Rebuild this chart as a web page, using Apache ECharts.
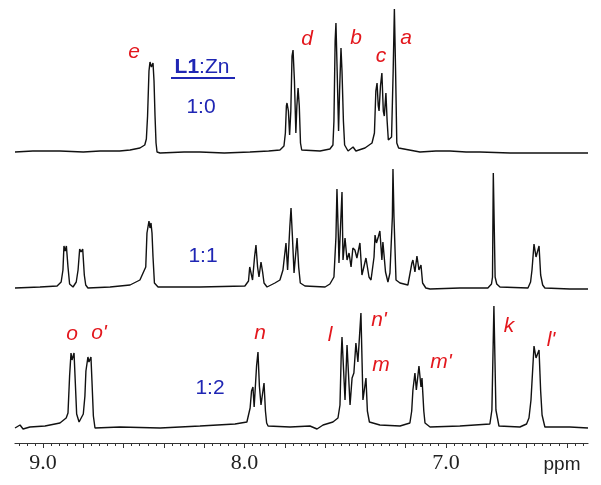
<!DOCTYPE html>
<html>
<head>
<meta charset="utf-8">
<script src="https://cdn.jsdelivr.net/npm/echarts@6/dist/echarts.min.js"></script>
<style>
html,body{margin:0;padding:0;background:#fff;}
#chart{width:601px;height:485px;}
</style>
</head>
<body>
<div id="chart"></div>
<script>
/* x range of the spectrum (ppm, drawn high -> low) */
var ppmMin = 6.295;
var ppmMax = 9.139;
var tickLabels = [9.0, 8.0, 7.0];
var majorTicks = [9.0, 8.8, 8.6, 8.4, 8.2, 8.0, 7.8, 7.6, 7.4, 7.2, 7.0, 6.8, 6.6, 6.4];

/* L1:Zn 1:0  [ppm, intensity] */
var trace10 = [
    [9.139,-1],[9.05,0],[8.916,0],[8.80,-1],[8.717,0],[8.62,0],[8.568,1],[8.519,3],[8.495,6],[8.487,12],[8.481,35],[8.474,80],[8.469,89],[8.462,84],[8.454,88],
    [8.449,70],[8.444,35],[8.439,8],[8.434,-1],[8.419,-2],[8.30,-1],[8.221,-1],[8.10,-2],[7.973,-1],[7.88,0],[7.824,1],[7.804,5],[7.797,18],[7.792,45],[7.789,48],[7.782,40],
    [7.776,16],[7.770,40],[7.764,95],[7.759,101],[7.752,70],[7.745,18],[7.740,45],[7.734,63],[7.728,45],[7.722,8],[7.716,1],[7.710,0],
    [7.625,0],[7.576,2],[7.561,6],[7.556,30],[7.550,110],[7.546,128],[7.540,80],[7.533,20],[7.528,60],[7.521,103],[7.516,80],[7.509,30],
    [7.503,6],[7.486,0],[7.461,4],[7.447,0],[7.402,3],[7.367,8],[7.355,18],[7.348,60],[7.342,68],[7.336,45],[7.332,40],[7.325,65],
    [7.318,78],[7.311,40],[7.306,35],[7.298,58],[7.292,30],[7.286,11],[7.278,9],[7.270,14],[7.262,80],[7.256,142],[7.250,80],
    [7.244,8],[7.235,3],[7.228,1],[7.129,-1],[7.05,0],[6.980,0],[6.90,-1],[6.831,-1],[6.682,-2],[6.533,-2],[6.385,-2],[6.295,-2]
];
/* L1:Zn 1:1 */
var trace11 = [
    [9.139,-1],[9.015,0],[8.930,1],[8.910,5],[8.901,17],[8.896,41],[8.890,36],[8.884,41],[8.876,20],[8.868,3],[8.851,0],[8.835,5],[8.826,17],
    [8.818,38],[8.811,35],[8.803,38],[8.795,12],[8.788,2],[8.777,-1],[8.667,0],[8.568,2],[8.519,7],[8.490,20],[8.484,54],[8.474,66],
    [8.469,59],[8.464,64],[8.459,54],[8.454,30],[8.447,4],[8.429,0],[8.221,0],[7.998,1],[7.980,6],[7.974,20],[7.968,21],[7.960,7],
    [7.950,30],[7.943,42],[7.935,20],[7.928,10],[7.918,25],[7.910,15],[7.903,4],[7.888,0],[7.849,4],[7.824,7],[7.809,17],[7.794,44],[7.786,17],
    [7.775,60],[7.769,79],[7.762,50],[7.754,14],[7.739,49],[7.731,20],[7.723,4],[7.700,1],[7.600,0],[7.576,3],[7.556,10],[7.546,50],[7.541,98],[7.534,50],[7.531,24],
    [7.516,95],[7.511,27],[7.501,49],[7.491,27],[7.481,34],[7.471,20],[7.462,39],[7.452,37],[7.442,29],[7.427,44],
    [7.417,12],[7.397,29],[7.382,10],[7.372,7],[7.357,30],[7.352,52],[7.345,44],[7.336,50],[7.328,56],[7.318,27],[7.313,45],[7.300,15],[7.288,5],[7.278,14],
    [7.266,70],[7.263,118],[7.258,70],[7.248,7],[7.228,4],[7.189,2],[7.169,24],[7.164,27],[7.154,15],[7.144,31],[7.134,17],[7.124,22],
    [7.116,4],[7.100,-1],[7.079,-2],[6.931,-1],[6.792,-1],[6.774,3],[6.769,10],[6.765,114],[6.760,114],[6.756,10],[6.748,3],[6.732,0],[6.593,-1],
    [6.580,5],[6.573,17],[6.563,43],[6.553,30],[6.538,41],[6.530,12],[6.520,2],[6.509,-1],[6.385,-2],[6.295,-2]
];
/* L1:Zn 1:2 */
var trace12 = [
    [9.139,-2],[9.114,1],[9.099,-3],[9.065,-1],[8.990,0],[8.916,3],[8.885,8],[8.876,13],[8.868,50],[8.861,73],[8.856,66],[8.846,73],
    [8.840,45],[8.833,12],[8.821,4],[8.800,12],[8.792,30],[8.787,55],[8.777,69],[8.772,64],[8.762,69],[8.757,45],[8.750,10],[8.742,-2],[8.618,-1],
    [8.419,-2],[8.221,0],[8.047,2],[7.988,4],[7.972,18],[7.965,35],[7.958,39],[7.952,19],[7.940,60],[7.933,74],[7.926,40],[7.918,21],[7.903,43],
    [7.896,15],[7.890,3],[7.883,0],[7.774,-1],[7.675,0],[7.640,-3],[7.610,1],[7.561,4],[7.536,8],[7.526,21],[7.520,70],[7.516,89],
    [7.501,26],[7.491,81],[7.476,21],[7.466,48],[7.457,53],[7.447,83],[7.437,64],[7.422,113],[7.412,26],[7.397,48],
    [7.390,15],[7.380,4],[7.328,1],[7.228,0],[7.179,3],[7.170,15],[7.164,36],[7.154,53],[7.147,36],[7.134,60],[7.124,39],[7.119,48],
    [7.110,15],[7.104,3],[7.079,-1],[6.931,0],[6.782,2],[6.772,16],[6.762,120],[6.752,16],[6.737,0],[6.633,-1],[6.600,2],[6.588,8],[6.578,26],
    [6.563,80],[6.553,68],[6.538,76],[6.530,35],[6.523,11],[6.509,-1],[6.385,-1],[6.295,-2]
];

var RED = '#e3171d';
var BLUE = '#1f26b4';

/* minor ticks every 0.04 ppm */
var minorTicks = [];
for (var t = 6.32; t <= 9.13; t += 0.04) {
    minorTicks.push(+t.toFixed(2));
}

var hiddenX = function (gi) {
    return {
        type: 'value', gridIndex: gi, inverse: true, min: ppmMin, max: ppmMax,
        show: false
    };
};
var hiddenY = function (gi, lo) {
    return { type: 'value', gridIndex: gi, min: lo, max: 151, show: false };
};
var lineSeries = function (gi, data) {
    return {
        type: 'line', xAxisIndex: gi, yAxisIndex: gi, data: data,
        showSymbol: false, clip: false, silent: true,
        lineStyle: { color: '#111', width: 1.4 }
    };
};
var label = function (x, y, text, color, italic) {
    return {
        type: 'text', x: x, y: y,
        style: {
            text: text, fill: color, fontSize: 21,
            fontFamily: 'Liberation Sans, Arial, sans-serif',
            fontStyle: italic ? 'italic' : 'normal',
            align: 'center', verticalAlign: 'middle',
            rich: { b: { fontWeight: 'bold', fontSize: 21, fill: color } }
        }
    };
};

var chart = echarts.init(document.getElementById('chart'));
chart.setOption({
    animation: false,
    backgroundColor: '#fff',
    grid: [
        { left: 15, right: 13, top: 0, height: 156 },
        { left: 15, right: 13, top: 136, height: 156 },
        { left: 15, right: 13, top: 275, height: 168 },
        { left: 15, right: 13, top: 275, height: 168 }
    ],
    xAxis: [
        hiddenX(0),
        hiddenX(1),
        {
            type: 'value', gridIndex: 2, inverse: true, min: ppmMin, max: ppmMax,
            splitLine: { show: false },
            axisLine: { show: true, onZero: false, lineStyle: { color: '#333', width: 1.2 } },
            axisTick: { show: true, customValues: majorTicks, length: 5, lineStyle: { color: '#333' } },
            axisLabel: {
                customValues: tickLabels, margin: 9,
                fontFamily: 'Liberation Serif, Times New Roman, serif',
                fontSize: 22, color: '#222',
                formatter: function (v) { return v.toFixed(1); }
            }
        },
        {
            type: 'value', gridIndex: 3, inverse: true, min: ppmMin, max: ppmMax,
            splitLine: { show: false },
            axisLine: { show: false, onZero: false },
            axisLabel: { show: false },
            axisTick: { show: true, customValues: minorTicks, length: 3, lineStyle: { color: '#333' } }
        }
    ],
    yAxis: [hiddenY(0, -5), hiddenY(1, -5), hiddenY(2, -17), hiddenY(3, -17)],
    series: [
        lineSeries(0, trace10),
        lineSeries(1, trace11),
        lineSeries(2, trace12)
    ],
    graphic: [
        label(134, 52, 'e', RED, true),
        label(307, 39, 'd', RED, true),
        label(356, 38, 'b', RED, true),
        label(381, 56, 'c', RED, true),
        label(406, 38, 'a', RED, true),
        label(202, 67, '{b|L1}:Zn', BLUE, false),
        { type: 'rect', shape: { x: 171, y: 77, width: 64, height: 2 }, style: { fill: BLUE } },
        label(201, 107, '1:0', BLUE, false),
        label(203, 256, '1:1', BLUE, false),
        label(210, 388, '1:2', BLUE, false),
        label(72, 334, 'o', RED, true),
        label(99, 333, "o'", RED, true),
        label(260, 333, 'n', RED, true),
        label(330, 335, 'l', RED, true),
        label(379, 320, "n'", RED, true),
        label(381, 365, 'm', RED, true),
        label(441, 362, "m'", RED, true),
        label(509, 326, 'k', RED, true),
        label(551, 340, "l'", RED, true),
        {
            type: 'text', x: 562, y: 465,
            style: {
                text: 'ppm', fill: '#222', fontSize: 19,
                fontFamily: 'Liberation Sans, Arial, sans-serif',
                align: 'center', verticalAlign: 'middle'
            }
        }
    ]
});
</script>
</body>
</html>
